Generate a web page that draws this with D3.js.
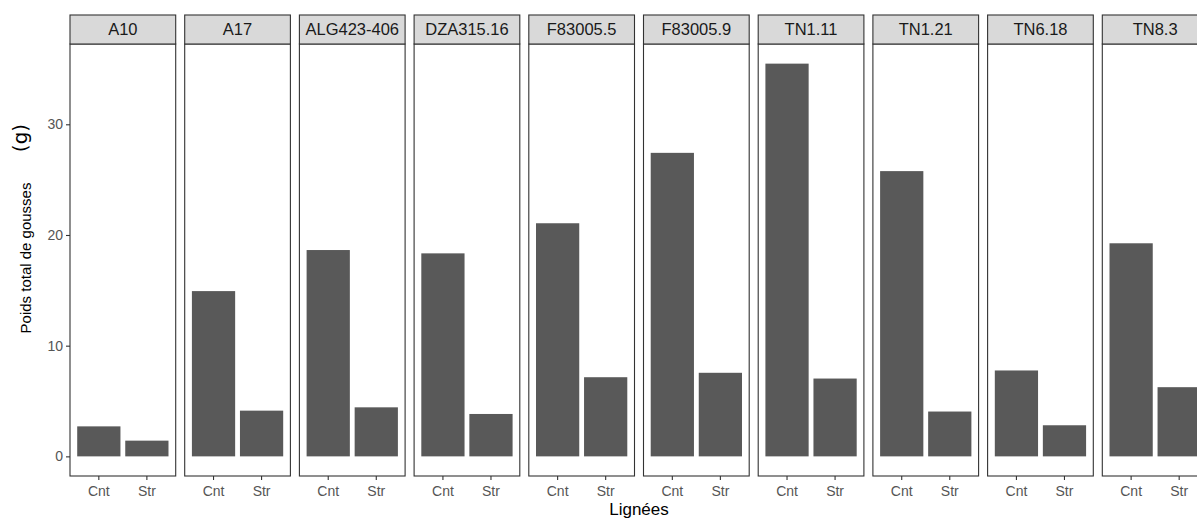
<!DOCTYPE html>
<html>
<head>
<meta charset="utf-8">
<script src="https://cdn.jsdelivr.net/npm/d3@7"></script>
<style>
  body { margin: 0; background: #fff; }
  text { font-family: "Liberation Sans", Arial, sans-serif; }
</style>
</head>
<body>
<svg id="chart" width="1197" height="518"></svg>
<script>
// lines (facets), treatments and the two series
var lignees = ["A10", "A17", "ALG423-406", "DZA315.16", "F83005.5", "F83005.9", "TN1.11", "TN1.21", "TN6.18", "TN8.3"];
var traitements = ["Cnt", "Str"];
var cnt = [2.71, 14.93, 18.64, 18.34, 21.06, 27.42, 35.48, 25.77, 7.76, 19.25];
var str = [1.42, 4.13, 4.43, 3.83, 7.15, 7.55, 7.03, 4.05, 2.81, 6.25];
var yTicks = [0, 10, 20, 30];

var svg = d3.select("#chart");

// note: "top" is a reserved window property, so use other names
var panelTop = 44, panelBottom = 476, stripH = 29;

// facet positions
var facet = d3.scaleBand()
	.domain(lignees)
	.range([70, 1208])
	.paddingInner(9 / 114.7)
	.paddingOuter(0);
var pw = facet.bandwidth();

// x inside a panel (ggplot discrete: bar width 0.9, 0.6 unit expansion)
var x = d3.scaleBand()
	.domain(traitements)
	.range([0, pw])
	.paddingInner(0.1)
	.paddingOuter(0.15);

var ymax = d3.max(cnt.concat(str));
var y = d3.scaleLinear()
	.domain([-0.05 * ymax, ymax * 1.05])
	.range([panelBottom, panelTop]);

lignees.forEach(function(l, i) {
	var g = svg.append("g").attr("transform", "translate(" + facet(l) + ",0)");
	var data = [{t: "Cnt", v: cnt[i]}, {t: "Str", v: str[i]}];

	g.selectAll("rect.bar")
		.data(data)
		.enter().append("rect")
		.attr("class", "bar")
		.attr("x", function(d) {return x(d.t)})
		.attr("width", x.bandwidth())
		.attr("y", function(d) {return y(d.v)})
		.attr("height", function(d) {return y(0) - y(d.v)})
		.style("fill", "#595959");

	// panel border
	g.append("rect")
		.attr("x", 0).attr("y", panelTop)
		.attr("width", pw).attr("height", panelBottom - panelTop)
		.style("fill", "none")
		.style("stroke", "#333")
		.style("stroke-width", 1.1);

	// strip
	g.append("rect")
		.attr("x", 0).attr("y", panelTop - stripH)
		.attr("width", pw).attr("height", stripH)
		.style("fill", "#d9d9d9")
		.style("stroke", "#333")
		.style("stroke-width", 1.1);
	g.append("text")
		.attr("x", pw / 2)
		.attr("y", panelTop - stripH / 2)
		.attr("dy", "0.36em")
		.attr("text-anchor", "middle")
		.style("font-size", "16.5px")
		.style("fill", "#1a1a1a")
		.text(l);

	// bottom axis
	var ax = g.append("g")
		.attr("transform", "translate(0," + panelBottom + ")")
		.call(d3.axisBottom(x).tickSize(4).tickPadding(6));
	ax.select(".domain").remove();
	ax.selectAll("line").style("stroke", "#333").style("stroke-width", 1.1);
	ax.selectAll("text")
		.style("font-size", "14px")
		.style("fill", "#555")
		.style("font-family", "'Liberation Sans', Arial, sans-serif");
});

// left axis
var ay = svg.append("g")
	.attr("transform", "translate(" + facet(lignees[0]) + ",0)")
	.call(d3.axisLeft(y).tickValues(yTicks).tickSize(4).tickPadding(3));
ay.select(".domain").remove();
ay.selectAll("line").style("stroke", "#333").style("stroke-width", 1.1);
ay.selectAll("text")
	.style("font-size", "14px")
	.style("fill", "#555")
	.style("font-family", "'Liberation Sans', Arial, sans-serif");

// axis titles
svg.append("text")
	.attr("x", (facet(lignees[0]) + facet(lignees[lignees.length - 1]) + pw) / 2)
	.attr("y", 515)
	.attr("text-anchor", "middle")
	.style("font-size", "17px")
	.style("fill", "#000")
	.text("Lignées");

svg.append("text")
	.attr("transform", "translate(26,258) rotate(-90)")
	.attr("dy", "0.36em")
	.attr("text-anchor", "middle")
	.style("font-size", "15px")
	.style("fill", "#000")
	.text("Poids total de gousses");

svg.append("text")
	.attr("transform", "translate(20,138) rotate(-90)")
	.attr("dy", "0.36em")
	.attr("text-anchor", "middle")
	.style("font-size", "20px")
	.style("font-family", "'DejaVu Sans', sans-serif")
	.style("fill", "#000")
	.text("(g)");
</script>
</body>
</html>
